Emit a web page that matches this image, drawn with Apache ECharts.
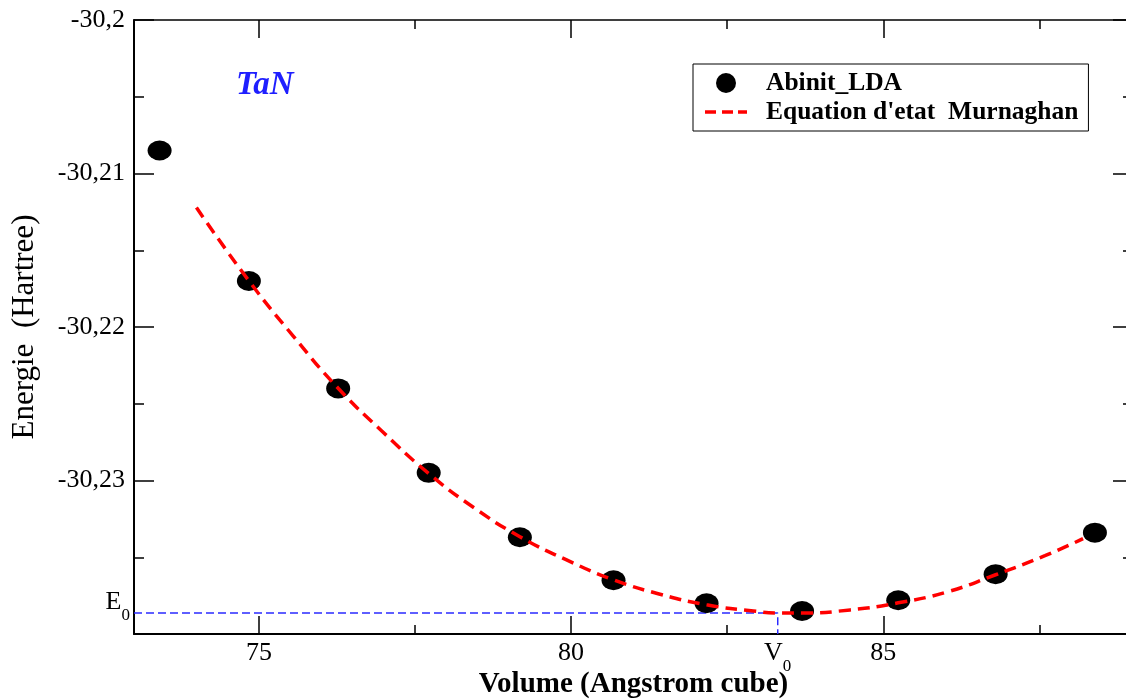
<!DOCTYPE html>
<html>
<head>
<meta charset="utf-8">
<script src="https://cdn.jsdelivr.net/npm/echarts@6/dist/echarts.min.js"></script>
<style>
  html, body { margin: 0; padding: 0; background: #fff; }
  #chart { width: 1126px; height: 700px; }
</style>
</head>
<body>
<div id="chart"></div>
<script>
// points Abinit_LDA (volume, energie)
const abinitVolume = [73.41, 74.84, 76.27, 77.72, 79.18, 80.68, 82.17, 83.70, 85.24, 86.80, 88.39];
const abinitEnergy = [-30.2085, -30.2170, -30.2240, -30.2295, -30.2337, -30.2365, -30.2380, -30.2385, -30.2378, -30.2361, -30.2334];

// courbe Murnaghan
const fitVolume = [74.00, 74.84, 75.55, 76.27, 76.99, 77.72, 78.44, 79.18, 79.92, 80.68, 81.41, 82.17, 82.92, 83.31, 83.70, 84.47, 85.24, 86.03, 86.80, 87.59, 88.20];
const fitEnergy = [-30.21222, -30.21699, -30.22059, -30.22399, -30.22686, -30.22954, -30.23176, -30.23366, -30.23516, -30.23647, -30.23739, -30.23810, -30.23850, -30.23863, -30.23863, -30.23843, -30.23797, -30.23725, -30.23614, -30.23490, -30.23379];

const V0 = 83.31;
const E0 = -30.23863;

const xMajorTicks = [75, 80, 85];
const xMinorTicks = [77.5, 82.5, 87.5];

const FONT = 'Liberation Serif';

const myChart = echarts.init(document.getElementById('chart'));

const scatterData = abinitVolume.map((v, i) => [v, abinitEnergy[i]]);
const fitData = fitVolume.map((v, i) => [v, fitEnergy[i]]);
const guideData = [[73, E0], [V0, E0], [V0, -30.24]];

const subRich = {
  b: { fontFamily: FONT, fontSize: 26, color: '#000', verticalAlign: 'top' },
  s: { fontFamily: FONT, fontSize: 17, color: '#000', padding: [18, 0, 0, 0] },
};

const xBase = {
  type: 'value',
  min: 73,
  max: 89,
  splitLine: { show: false },
  axisLine: { show: false },
  axisLabel: { show: false },
};

const option = {
  animation: false,
  grid: { left: 134, right: -7, top: 20, bottom: 66, containLabel: false, outerBoundsMode: 'none' },
  xAxis: [
    {
      ...xBase,
      position: 'bottom',
      name: 'Volume (Angstrom cube)',
      nameLocation: 'middle',
      nameGap: 36,
      nameMoveOverlap: false,
      nameTextStyle: { fontFamily: FONT, fontSize: 29, fontWeight: 'bold', color: '#000' },
      axisLine: { show: true, lineStyle: { color: '#000', width: 2 } },
      axisTick: { inside: true, length: 18, customValues: xMajorTicks, lineStyle: { color: '#000', width: 1.5 } },
      axisLabel: {
        show: true,
        customValues: xMajorTicks.concat([V0]),
        margin: 6,
        fontFamily: FONT,
        fontSize: 26,
        color: '#000',
        formatter: (v) => (Math.abs(v - V0) < 1e-6 ? '{b|V}{s|0}' : String(v)),
        rich: subRich,
      },
    },
    {
      ...xBase,
      position: 'bottom',
      axisTick: { inside: true, length: 9, customValues: xMinorTicks, lineStyle: { color: '#000', width: 1.5 } },
    },
    {
      ...xBase,
      position: 'top',
      axisLine: { show: true, lineStyle: { color: '#000', width: 1.5 } },
      axisTick: { inside: true, length: 18, customValues: xMajorTicks, lineStyle: { color: '#000', width: 1.5 } },
    },
    {
      ...xBase,
      position: 'top',
      axisTick: { inside: true, length: 9, customValues: xMinorTicks, lineStyle: { color: '#000', width: 1.5 } },
    },
  ],
  yAxis: [
    {
      type: 'value',
      position: 'left',
      min: -30.24,
      max: -30.2,
      interval: 0.01,
      name: 'Energie  (Hartree)',
      nameLocation: 'middle',
      nameGap: 94,
      nameMoveOverlap: false,
      nameTextStyle: { fontFamily: FONT, fontSize: 31, color: '#000' },
      splitLine: { show: false },
      axisLine: { show: true, lineStyle: { color: '#000', width: 2 } },
      axisTick: { inside: true, length: 20, lineStyle: { color: '#000', width: 1.5 } },
      minorTick: { show: true, splitNumber: 2, length: 10, lineStyle: { color: '#000', width: 1.5 } },
      axisLabel: {
        margin: 9,
        fontFamily: FONT,
        fontSize: 26,
        color: '#000',
        formatter: (v) => {
          if (Math.abs(v + 30.24) < 1e-6) return '';
          return String(Number(v.toFixed(4))).replace('.', ',');
        },
      },
    },
    {
      type: 'value',
      position: 'right',
      min: -30.24,
      max: -30.2,
      interval: 0.01,
      splitLine: { show: false },
      axisLine: { show: true, lineStyle: { color: '#000', width: 2 } },
      axisTick: { inside: true, length: 20, lineStyle: { color: '#000', width: 1.5 } },
      minorTick: { show: true, splitNumber: 2, length: 10, lineStyle: { color: '#000', width: 1.5 } },
      axisLabel: { show: false },
    },
    {
      type: 'value',
      position: 'left',
      min: -30.24,
      max: -30.2,
      splitLine: { show: false },
      axisLine: { show: false },
      axisTick: { show: false },
      axisLabel: {
        customValues: [E0],
        margin: 4,
        padding: [0, 0, 12, 0],
        formatter: () => '{b|E}{s|0}',
        rich: subRich,
      },
    },
  ],
  legend: {
    left: 693,
    top: 64,
    orient: 'vertical',
    padding: [6, 10, 6, 12],
    itemGap: 3,
    itemWidth: 42,
    itemHeight: 20,
    borderColor: '#000',
    borderWidth: 1,
    borderRadius: 0,
    textStyle: { fontFamily: FONT, fontSize: 25.5, fontWeight: 'bold', color: '#000', padding: [0, 0, 0, 14] },
    data: [
      { name: 'Abinit_LDA', icon: 'circle' },
      { name: "Equation d'etat  Murnaghan", icon: 'path://M0,0H11V3.5H0Z M17,0H28V3.5H17Z M33,0H42V3.5H33Z' },
    ],
  },
  graphic: [
    {
      type: 'text',
      left: 236,
      top: 69,
      style: { text: 'TaN', fontFamily: FONT, fontSize: 33, fontStyle: 'italic', fontWeight: 'bold', fill: '#1f1fff' },
    },
  ],
  series: [
    {
      type: 'line',
      name: 'guide',
      data: guideData,
      symbol: 'none',
      silent: true,
      lineStyle: { color: '#2a2aff', width: 1.5, type: [8, 4] },
      z: 1,
    },
    {
      type: 'line',
      name: "Equation d'etat  Murnaghan",
      data: fitData,
      smooth: true,
      symbol: 'none',
      lineStyle: { color: '#ff0000', width: 3.5, type: [12, 7] },
      itemStyle: { color: '#ff0000' },
      z: 3,
    },
    {
      type: 'scatter',
      name: 'Abinit_LDA',
      data: scatterData,
      symbol: 'circle',
      symbolSize: [24, 20],
      itemStyle: { color: '#000', opacity: 1 },
      z: 2,
    },
  ],
};

myChart.setOption(option);
</script>
</body>
</html>
